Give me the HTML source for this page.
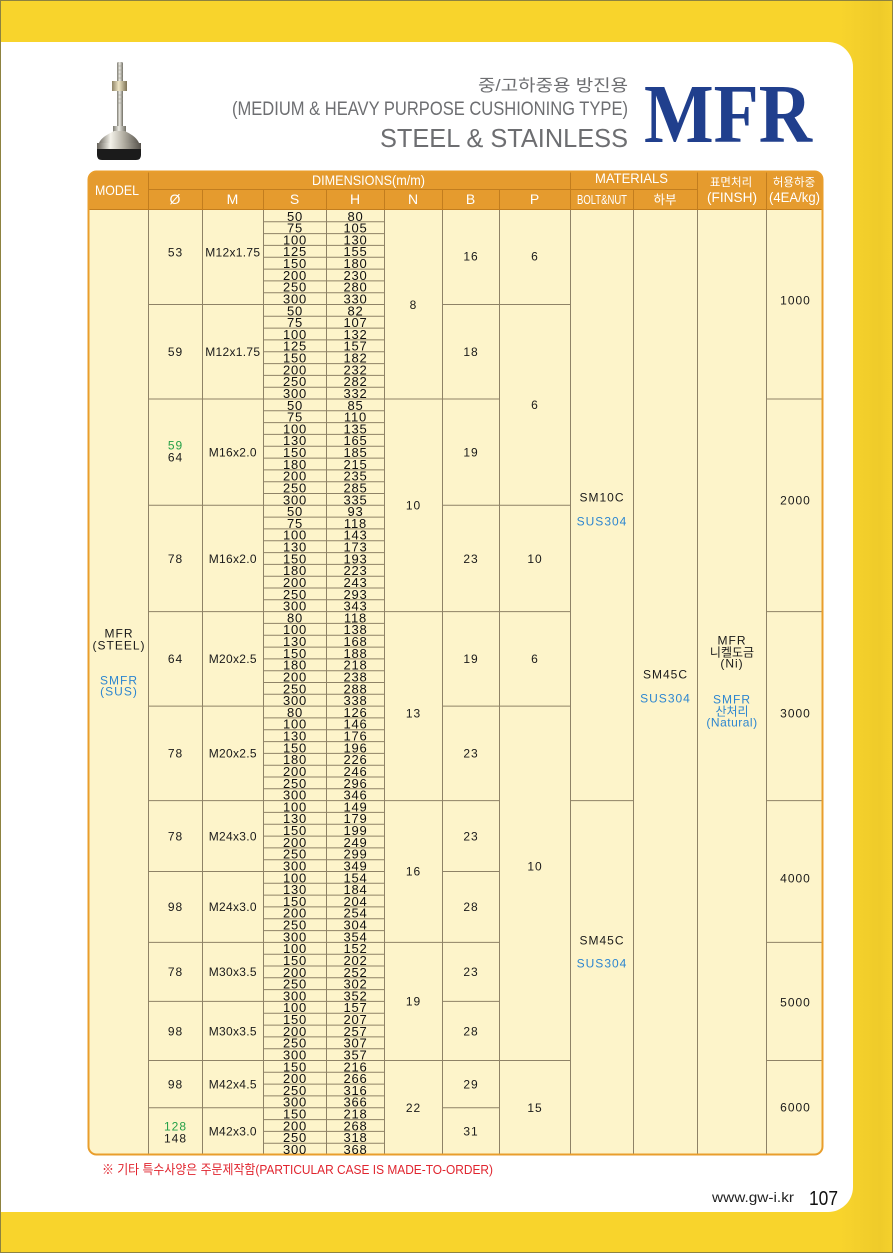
<!DOCTYPE html>
<html><head><meta charset="utf-8"><style>
html,body{margin:0;padding:0;background:#fff;}
svg{display:block;}
</style></head><body>
<svg xmlns="http://www.w3.org/2000/svg" width="893" height="1253" viewBox="0 0 893 1253">
<defs>
<linearGradient id="yel" x1="0" x2="1" y1="0" y2="0"><stop offset="0" stop-color="#F8D42C"/><stop offset="0.94" stop-color="#F8D42C"/><stop offset="0.985" stop-color="#EFCB2A"/><stop offset="1" stop-color="#F5D12C"/></linearGradient>
<linearGradient id="rod" x1="0" x2="1"><stop offset="0" stop-color="#7d7b72"/><stop offset=".45" stop-color="#ecebe3"/><stop offset="1" stop-color="#6f6d63"/></linearGradient>
<linearGradient id="nut" x1="0" x2="1"><stop offset="0" stop-color="#8f8466"/><stop offset=".45" stop-color="#efe6c6"/><stop offset="1" stop-color="#7e7356"/></linearGradient>
<linearGradient id="dome" x1="0" x2="1"><stop offset="0" stop-color="#66625a"/><stop offset=".3" stop-color="#f4f2ea"/><stop offset=".6" stop-color="#b4b0a4"/><stop offset="1" stop-color="#55514a"/></linearGradient>
</defs>

<!-- background -->
<rect x="0" y="0" width="893" height="1253" fill="url(#yel)"/>
<path d="M0 42H828A25 25 0 0 1 853 67V1187A25 25 0 0 1 828 1212H0Z" fill="#ffffff"/>
<rect x="0.5" y="0.5" width="892" height="1252" fill="none" stroke="#8d8240" stroke-width="1"/>

<!-- product -->
<rect x="117" y="62" width="6" height="74" rx="1.5" fill="url(#rod)"/>
<path d="M117 66h6M117 70h6M117 74h6M117 78h6M117 95h6M117 99h6M117 103h6" stroke="#9a978c" stroke-width="0.6"/>
<rect x="112" y="81" width="15" height="10" fill="url(#nut)"/>
<rect x="113" y="126" width="13" height="7" fill="url(#rod)"/>
<path d="M98 146C100 137 109 134 114 131H125C130 134 138 137 140 146Z" fill="url(#dome)"/>
<rect x="97" y="143" width="44" height="6" fill="url(#dome)"/>
<path d="M97 149H141V155Q141 160 136 160H102Q97 160 97 155Z" fill="#1b1b1b"/>

<!-- titles -->
<g font-family="'Liberation Sans','Noto Sans CJK KR',sans-serif" fill="#6d6e71">
<text x="478" y="91" font-size="16.5" textLength="150" lengthAdjust="spacingAndGlyphs">중/고하중용 방진용</text>
<text x="232" y="115" font-size="19" textLength="396" lengthAdjust="spacingAndGlyphs">(MEDIUM &amp; HEAVY PURPOSE CUSHIONING TYPE)</text>
<text x="380" y="147" font-size="26" textLength="248" lengthAdjust="spacingAndGlyphs">STEEL &amp; STAINLESS</text>
</g>
<text x="644" y="142" font-family="'Liberation Serif',serif" font-weight="bold" font-size="84" textLength="168" lengthAdjust="spacingAndGlyphs" fill="#203f8d">MFR</text>

<!-- table base -->
<rect x="88" y="171" width="735" height="984" rx="8" fill="#FDF4CA"/>
<path d="M88 209.5V179A8 8 0 0 1 96 171H815A8 8 0 0 1 823 179V209.5Z" fill="#E59B2E"/>

<!-- header lines -->
<g stroke="#C27D1E" stroke-width="1" fill="none">
<path d="M148.5 171V210M570.5 171V210M697.5 171V210M766.5 171V210"/>
<path d="M202.5 189.5V210M263.5 189.5V210M326.5 189.5V210M384.5 189.5V210M442.5 189.5V210M499.5 189.5V210M633.5 189.5V210"/>
<path d="M148 189.5H697"/>
<path d="M88 209.5H823"/>
</g>

<!-- body grid -->
<g stroke="#8e8266" stroke-width="1" fill="none">
<path d="M148.5 210V1155M202.5 210V1155M263.5 210V1155M326.5 210V1155M384.5 210V1155M442.5 210V1155M499.5 210V1155M570.5 210V1155M633.5 210V1155M697.5 210V1155M766.5 210V1155"/>
<path d="M263 221.8h121M263 233.6h121M263 245.4h121M263 257.3h121M263 269.1h121M263 280.9h121M263 292.7h121M263 304.5h121M263 316.3h121M263 328.1h121M263 339.9h121M263 351.8h121M263 363.6h121M263 375.4h121M263 387.2h121M263 399h121M263 410.8h121M263 422.6h121M263 434.4h121M263 446.3h121M263 458.1h121M263 469.9h121M263 481.7h121M263 493.5h121M263 505.3h121M263 517.1h121M263 528.9h121M263 540.8h121M263 552.6h121M263 564.4h121M263 576.2h121M263 588h121M263 599.8h121M263 611.6h121M263 623.4h121M263 635.3h121M263 647.1h121M263 658.9h121M263 670.7h121M263 682.5h121M263 694.3h121M263 706.1h121M263 717.9h121M263 729.8h121M263 741.6h121M263 753.4h121M263 765.2h121M263 777h121M263 788.8h121M263 800.6h121M263 812.4h121M263 824.3h121M263 836.1h121M263 847.9h121M263 859.7h121M263 871.5h121M263 883.3h121M263 895.1h121M263 906.9h121M263 918.8h121M263 930.6h121M263 942.4h121M263 954.2h121M263 966h121M263 977.8h121M263 989.6h121M263 1001.4h121M263 1013.3h121M263 1025.1h121M263 1036.9h121M263 1048.7h121M263 1060.5h121M263 1072.3h121M263 1084.1h121M263 1095.9h121M263 1107.8h121M263 1119.6h121M263 1131.4h121M263 1143.2h121"/>
<path d="M148 304.5h115M148 399h115M148 505.3h115M148 611.6h115M148 706.1h115M148 800.6h115M148 871.5h115M148 942.4h115M148 1001.4h115M148 1060.5h115M148 1107.8h115"/>
<path d="M442 304.5h57M442 399h57M442 505.3h57M442 611.6h57M442 706.1h57M442 800.6h57M442 871.5h57M442 942.4h57M442 1001.4h57M442 1060.5h57M442 1107.8h57"/>
<path d="M384 399h58M384 611.6h58M384 800.6h58M384 942.4h58M384 1060.5h58"/>
<path d="M499 304.5h71M499 505.3h71M499 611.6h71M499 706.1h71M499 1060.5h71"/>
<path d="M570 800.6h63"/>
<path d="M766 399h57M766 611.6h57M766 800.6h57M766 942.4h57M766 1060.5h57"/>
</g>

<!-- outer border -->
<rect x="88.5" y="171.5" width="734" height="983" rx="8" fill="none" stroke="#E99E2C" stroke-width="2"/>

<!-- header text -->
<g font-family="'Liberation Sans','Noto Sans CJK KR',sans-serif" fill="#ffffff" font-size="14">
<text x="95" y="195" textLength="44" lengthAdjust="spacingAndGlyphs">MODEL</text>
<text x="312" y="185" textLength="113" lengthAdjust="spacingAndGlyphs">DIMENSIONS(m/m)</text>
<text x="595" y="183" textLength="73" lengthAdjust="spacingAndGlyphs">MATERIALS</text>
<g text-anchor="middle">
<text x="175" y="204">Ø</text>
<text x="232.5" y="204">M</text>
<text x="294.5" y="204">S</text>
<text x="355" y="204">H</text>
<text x="413" y="204">N</text>
<text x="470.5" y="204">B</text>
<text x="534.5" y="204">P</text>
<text x="665" y="204" font-size="12.5">하부</text>
<text x="731" y="186" font-size="11.5">표면처리</text>
<text x="794" y="186" font-size="11.5">허용하중</text>
</g>
<text x="577" y="204" font-size="13" textLength="50" lengthAdjust="spacingAndGlyphs">BOLT&amp;NUT</text>
<text x="707" y="202" textLength="50" lengthAdjust="spacingAndGlyphs">(FINSH)</text>
<text x="769" y="202" textLength="51" lengthAdjust="spacingAndGlyphs">(4EA/kg)</text>
</g>

<!-- S column -->
<g font-family="'Liberation Sans',sans-serif" font-size="13" letter-spacing="0.8" fill="#111" text-anchor="middle">
<text x="295" y="220.8">50</text><text x="295" y="232.6">75</text><text x="295" y="244.4">100</text><text x="295" y="256.2">125</text><text x="295" y="268.1">150</text><text x="295" y="279.9">200</text><text x="295" y="291.7">250</text><text x="295" y="303.5">300</text>
<text x="295" y="315.3">50</text><text x="295" y="327.1">75</text><text x="295" y="338.9">100</text><text x="295" y="350.7">125</text><text x="295" y="362.6">150</text><text x="295" y="374.4">200</text><text x="295" y="386.2">250</text><text x="295" y="398">300</text>
<text x="295" y="409.8">50</text><text x="295" y="421.6">75</text><text x="295" y="433.4">100</text><text x="295" y="445.2">130</text><text x="295" y="457.1">150</text><text x="295" y="468.9">180</text><text x="295" y="480.7">200</text><text x="295" y="492.5">250</text><text x="295" y="504.3">300</text>
<text x="295" y="516.1">50</text><text x="295" y="527.9">75</text><text x="295" y="539.7">100</text><text x="295" y="551.6">130</text><text x="295" y="563.4">150</text><text x="295" y="575.2">180</text><text x="295" y="587">200</text><text x="295" y="598.8">250</text><text x="295" y="610.6">300</text>
<text x="295" y="622.4">80</text><text x="295" y="634.2">100</text><text x="295" y="646.1">130</text><text x="295" y="657.9">150</text><text x="295" y="669.7">180</text><text x="295" y="681.5">200</text><text x="295" y="693.3">250</text><text x="295" y="705.1">300</text>
<text x="295" y="716.9">80</text><text x="295" y="728.7">100</text><text x="295" y="740.6">130</text><text x="295" y="752.4">150</text><text x="295" y="764.2">180</text><text x="295" y="776">200</text><text x="295" y="787.8">250</text><text x="295" y="799.6">300</text>
<text x="295" y="811.4">100</text><text x="295" y="823.2">130</text><text x="295" y="835.1">150</text><text x="295" y="846.9">200</text><text x="295" y="858.7">250</text><text x="295" y="870.5">300</text>
<text x="295" y="882.3">100</text><text x="295" y="894.1">130</text><text x="295" y="905.9">150</text><text x="295" y="917.7">200</text><text x="295" y="929.6">250</text><text x="295" y="941.4">300</text>
<text x="295" y="953.2">100</text><text x="295" y="965">150</text><text x="295" y="976.8">200</text><text x="295" y="988.6">250</text><text x="295" y="1000.4">300</text>
<text x="295" y="1012.2">100</text><text x="295" y="1024.1">150</text><text x="295" y="1035.9">200</text><text x="295" y="1047.7">250</text><text x="295" y="1059.5">300</text>
<text x="295" y="1071.3">150</text><text x="295" y="1083.1">200</text><text x="295" y="1094.9">250</text><text x="295" y="1106.7">300</text>
<text x="295" y="1118.6">150</text><text x="295" y="1130.4">200</text><text x="295" y="1142.2">250</text><text x="295" y="1154">300</text>
</g>

<!-- H column -->
<g font-family="'Liberation Sans',sans-serif" font-size="13" letter-spacing="0.8" fill="#111" text-anchor="middle">
<text x="355.5" y="220.8">80</text><text x="355.5" y="232.6">105</text><text x="355.5" y="244.4">130</text><text x="355.5" y="256.2">155</text><text x="355.5" y="268.1">180</text><text x="355.5" y="279.9">230</text><text x="355.5" y="291.7">280</text><text x="355.5" y="303.5">330</text>
<text x="355.5" y="315.3">82</text><text x="355.5" y="327.1">107</text><text x="355.5" y="338.9">132</text><text x="355.5" y="350.7">157</text><text x="355.5" y="362.6">182</text><text x="355.5" y="374.4">232</text><text x="355.5" y="386.2">282</text><text x="355.5" y="398">332</text>
<text x="355.5" y="409.8">85</text><text x="355.5" y="421.6">110</text><text x="355.5" y="433.4">135</text><text x="355.5" y="445.2">165</text><text x="355.5" y="457.1">185</text><text x="355.5" y="468.9">215</text><text x="355.5" y="480.7">235</text><text x="355.5" y="492.5">285</text><text x="355.5" y="504.3">335</text>
<text x="355.5" y="516.1">93</text><text x="355.5" y="527.9">118</text><text x="355.5" y="539.7">143</text><text x="355.5" y="551.6">173</text><text x="355.5" y="563.4">193</text><text x="355.5" y="575.2">223</text><text x="355.5" y="587">243</text><text x="355.5" y="598.8">293</text><text x="355.5" y="610.6">343</text>
<text x="355.5" y="622.4">118</text><text x="355.5" y="634.2">138</text><text x="355.5" y="646.1">168</text><text x="355.5" y="657.9">188</text><text x="355.5" y="669.7">218</text><text x="355.5" y="681.5">238</text><text x="355.5" y="693.3">288</text><text x="355.5" y="705.1">338</text>
<text x="355.5" y="716.9">126</text><text x="355.5" y="728.7">146</text><text x="355.5" y="740.6">176</text><text x="355.5" y="752.4">196</text><text x="355.5" y="764.2">226</text><text x="355.5" y="776">246</text><text x="355.5" y="787.8">296</text><text x="355.5" y="799.6">346</text>
<text x="355.5" y="811.4">149</text><text x="355.5" y="823.2">179</text><text x="355.5" y="835.1">199</text><text x="355.5" y="846.9">249</text><text x="355.5" y="858.7">299</text><text x="355.5" y="870.5">349</text>
<text x="355.5" y="882.3">154</text><text x="355.5" y="894.1">184</text><text x="355.5" y="905.9">204</text><text x="355.5" y="917.7">254</text><text x="355.5" y="929.6">304</text><text x="355.5" y="941.4">354</text>
<text x="355.5" y="953.2">152</text><text x="355.5" y="965">202</text><text x="355.5" y="976.8">252</text><text x="355.5" y="988.6">302</text><text x="355.5" y="1000.4">352</text>
<text x="355.5" y="1012.2">157</text><text x="355.5" y="1024.1">207</text><text x="355.5" y="1035.9">257</text><text x="355.5" y="1047.7">307</text><text x="355.5" y="1059.5">357</text>
<text x="355.5" y="1071.3">216</text><text x="355.5" y="1083.1">266</text><text x="355.5" y="1094.9">316</text><text x="355.5" y="1106.7">366</text>
<text x="355.5" y="1118.6">218</text><text x="355.5" y="1130.4">268</text><text x="355.5" y="1142.2">318</text><text x="355.5" y="1154">368</text>
</g>

<!-- other cells -->
<g font-family="'Liberation Sans','Noto Sans CJK KR',sans-serif" font-size="12" letter-spacing="1" fill="#1a1a1a" text-anchor="middle">
<text x="119" y="637.3">MFR</text>
<text x="119" y="649.3">(STEEL)</text>
<text x="119" y="684.3" fill="#2d86d0">SMFR</text>
<text x="119" y="695.3" fill="#2d86d0">(SUS)</text>
<text x="175.5" y="256.5">53</text>
<text x="175.5" y="356">59</text>
<text x="175.5" y="449.3" fill="#25a048">59</text>
<text x="175.5" y="461.3">64</text>
<text x="175.5" y="562.8">78</text>
<text x="175.5" y="663.2">64</text>
<text x="175.5" y="757.6">78</text>
<text x="175.5" y="840.3">78</text>
<text x="175.5" y="911.2">98</text>
<text x="175.5" y="976.2">78</text>
<text x="175.5" y="1035.3">98</text>
<text x="175.5" y="1088.4">98</text>
<text x="175.5" y="1130.3" fill="#25a048">128</text>
<text x="175.5" y="1142.3">148</text>
</g>
<g font-family="'Liberation Sans',sans-serif" font-size="12" letter-spacing="0.3" fill="#1a1a1a" text-anchor="middle">
<text x="232.8" y="256.5">M12x1.75</text>
<text x="232.8" y="356">M12x1.75</text>
<text x="232.8" y="456.5">M16x2.0</text>
<text x="232.8" y="562.8">M16x2.0</text>
<text x="232.8" y="663.2">M20x2.5</text>
<text x="232.8" y="757.6">M20x2.5</text>
<text x="232.8" y="840.3">M24x3.0</text>
<text x="232.8" y="911.2">M24x3.0</text>
<text x="232.8" y="976.2">M30x3.5</text>
<text x="232.8" y="1035.3">M30x3.5</text>
<text x="232.8" y="1088.4">M42x4.5</text>
<text x="232.8" y="1135.6">M42x3.0</text>
</g>
<g font-family="'Liberation Sans','Noto Sans CJK KR',sans-serif" font-size="12" letter-spacing="1" fill="#1a1a1a" text-anchor="middle">
<text x="413.5" y="308.8">8</text>
<text x="413.5" y="509.6">10</text>
<text x="413.5" y="717.3">13</text>
<text x="413.5" y="875.3">16</text>
<text x="413.5" y="1005.7">19</text>
<text x="413.5" y="1112">22</text>
<text x="471" y="260.5">16</text>
<text x="471" y="356">18</text>
<text x="471" y="456.5">19</text>
<text x="471" y="562.8">23</text>
<text x="471" y="663.2">19</text>
<text x="471" y="757.6">23</text>
<text x="471" y="840.3">23</text>
<text x="471" y="911.2">28</text>
<text x="471" y="976.2">23</text>
<text x="471" y="1035.3">28</text>
<text x="471" y="1088.4">29</text>
<text x="471" y="1135.6">31</text>
<text x="535" y="260.5">6</text>
<text x="535" y="409.2">6</text>
<text x="535" y="562.8">10</text>
<text x="535" y="663.2">6</text>
<text x="535" y="870.3">10</text>
<text x="535" y="1112">15</text>
<text x="602" y="501.3">SM10C</text>
<text x="602" y="525.3" fill="#2d86d0">SUS304</text>
<text x="602" y="944.3">SM45C</text>
<text x="602" y="967.3" fill="#2d86d0">SUS304</text>
<text x="665.5" y="678.3">SM45C</text>
<text x="665.5" y="702.3" fill="#2d86d0">SUS304</text>
<text x="732" y="644.3">MFR</text>
<text x="732" y="656.3" letter-spacing="0">니켈도금</text>
<text x="732" y="667.3">(Ni)</text>
<text x="732" y="703.3" fill="#2d86d0">SMFR</text>
<text x="732" y="715.3" fill="#2d86d0" letter-spacing="0">산처리</text>
<text x="732" y="726.3" fill="#2d86d0" letter-spacing="0.5">(Natural)</text>
<text x="795.5" y="304.3">1000</text>
<text x="795.5" y="504.3">2000</text>
<text x="795.5" y="717.3">3000</text>
<text x="795.5" y="882.3">4000</text>
<text x="795.5" y="1006.3">5000</text>
<text x="795.5" y="1111.3">6000</text>
</g>

<!-- footnote -->
<text x="102" y="1174" font-family="'Liberation Sans','Noto Sans CJK KR',sans-serif" font-size="13" fill="#e0242e" textLength="391" lengthAdjust="spacingAndGlyphs">※ 기타 특수사양은 주문제작함(PARTICULAR CASE IS MADE-TO-ORDER)</text>

<!-- footer -->
<text x="712" y="1202" font-family="'Liberation Sans',sans-serif" font-size="14" fill="#222" textLength="82" lengthAdjust="spacingAndGlyphs">www.gw-i.kr</text>
<text x="809" y="1205" font-family="'Liberation Sans',sans-serif" font-size="20" fill="#111" textLength="29" lengthAdjust="spacingAndGlyphs">107</text>
</svg>
</body></html>
